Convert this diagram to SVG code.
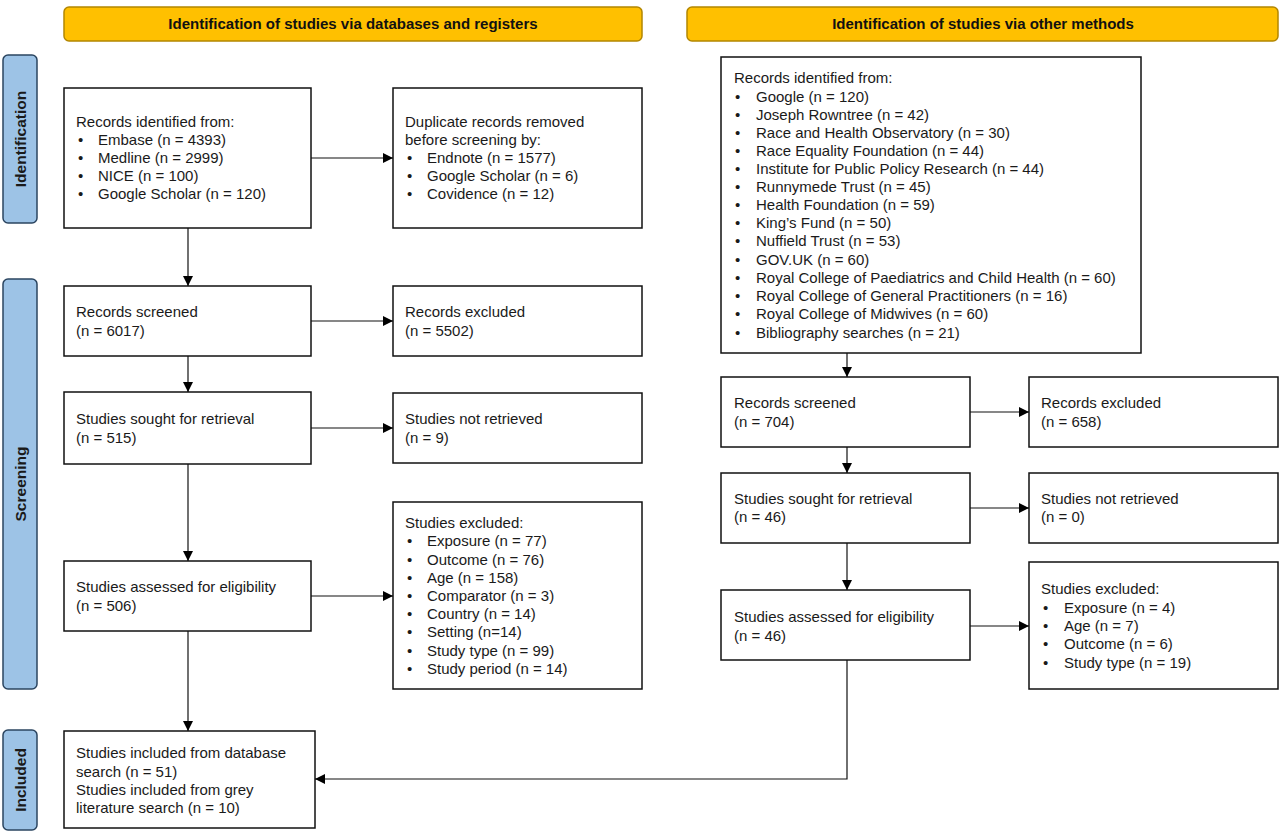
<svg xmlns="http://www.w3.org/2000/svg" width="1280" height="834" viewBox="0 0 1280 834">
<defs>
<marker id="ah" viewBox="0 0 10 10" refX="10" refY="5" markerWidth="10" markerHeight="10" markerUnits="userSpaceOnUse" orient="auto">
<path d="M0,0 L10,5 L0,10 z" fill="#000"/>
</marker>
<style>
.hdr{fill:#FFC000;stroke:#B38600;stroke-width:1.5}
.side{fill:#9DC3E6;stroke:#2B4560;stroke-width:1.5}
.box{fill:#fff;stroke:#111;stroke-width:1.5}
.ht{font-family:"Liberation Sans",Arial,sans-serif;font-weight:bold;font-size:15px;fill:#111;text-anchor:middle}
.st{font-family:"Liberation Sans",Arial,sans-serif;font-weight:bold;font-size:15.5px;fill:#1a1a1a;text-anchor:middle}
.t{font-family:"Liberation Sans",Arial,sans-serif;font-size:15px;fill:#1a1a1a}
.c{stroke:#111;stroke-width:1.2;fill:none}
.a{stroke:#111;stroke-width:1.2;fill:none;marker-end:url(#ah)}
</style>
</defs>
<rect width="1280" height="834" fill="#fff"/>

<g id="header-databases">
<rect class="hdr" x="64" y="7" width="578" height="34" rx="5"/>
<text class="ht" x="353" y="29">Identification of studies via databases and registers</text>
</g>
<g id="header-other">
<rect class="hdr" x="687" y="7" width="591" height="34" rx="5"/>
<text class="ht" x="983" y="29">Identification of studies via other methods</text>
</g>

<g id="side-identification">
<rect class="side" x="3" y="55" width="34" height="168" rx="5"/>
<text class="st" transform="translate(25.5,139) rotate(-90)">Identification</text>
</g>
<g id="side-screening">
<rect class="side" x="3" y="279" width="34" height="410" rx="5"/>
<text class="st" transform="translate(25.5,484) rotate(-90)">Screening</text>
</g>
<g id="side-included">
<rect class="side" x="3" y="730" width="34" height="100" rx="5"/>
<text class="st" transform="translate(25.5,780) rotate(-90)">Included</text>
</g>

<g id="db-identified">
<rect class="box" x="64" y="88" width="247" height="140"/>
<text class="t" x="76" y="127">Records identified from:</text>
<text class="t" x="78" y="145">•</text><text class="t" x="98" y="145">Embase (n = 4393)</text>
<text class="t" x="78" y="163">•</text><text class="t" x="98" y="163">Medline (n = 2999)</text>
<text class="t" x="78" y="181">•</text><text class="t" x="98" y="181">NICE (n = 100)</text>
<text class="t" x="78" y="199">•</text><text class="t" x="98" y="199">Google Scholar (n = 120)</text>
</g>
<g id="db-duplicates">
<rect class="box" x="393" y="88" width="249" height="140"/>
<text class="t" x="405" y="127">Duplicate records removed</text>
<text class="t" x="405" y="145">before screening by:</text>
<text class="t" x="407" y="163">•</text><text class="t" x="427" y="163">Endnote (n = 1577)</text>
<text class="t" x="407" y="181">•</text><text class="t" x="427" y="181">Google Scholar (n = 6)</text>
<text class="t" x="407" y="199">•</text><text class="t" x="427" y="199">Covidence (n = 12)</text>
</g>
<g id="db-screened">
<rect class="box" x="64" y="286" width="247" height="70"/>
<text class="t" x="76" y="317">Records screened</text>
<text class="t" x="76" y="336">(n = 6017)</text>
</g>
<g id="db-excluded">
<rect class="box" x="393" y="286" width="249" height="70"/>
<text class="t" x="405" y="317">Records excluded</text>
<text class="t" x="405" y="336">(n = 5502)</text>
</g>
<g id="db-sought">
<rect class="box" x="64" y="392" width="247" height="72"/>
<text class="t" x="76" y="424">Studies sought for retrieval</text>
<text class="t" x="76" y="443">(n = 515)</text>
</g>
<g id="db-not-retrieved">
<rect class="box" x="393" y="393" width="249" height="70"/>
<text class="t" x="405" y="424">Studies not retrieved</text>
<text class="t" x="405" y="443">(n = 9)</text>
</g>
<g id="db-assessed">
<rect class="box" x="64" y="561" width="247" height="70"/>
<text class="t" x="76" y="592">Studies assessed for eligibility</text>
<text class="t" x="76" y="611">(n = 506)</text>
</g>
<g id="db-studies-excluded">
<rect class="box" x="393" y="502" width="249" height="187"/>
<text class="t" x="405" y="528">Studies excluded:</text>
<text class="t" x="407" y="546">•</text><text class="t" x="427" y="546">Exposure (n = 77)</text>
<text class="t" x="407" y="565">•</text><text class="t" x="427" y="565">Outcome (n = 76)</text>
<text class="t" x="407" y="583">•</text><text class="t" x="427" y="583">Age (n = 158)</text>
<text class="t" x="407" y="601">•</text><text class="t" x="427" y="601">Comparator (n = 3)</text>
<text class="t" x="407" y="619">•</text><text class="t" x="427" y="619">Country (n = 14)</text>
<text class="t" x="407" y="637">•</text><text class="t" x="427" y="637">Setting (n=14)</text>
<text class="t" x="407" y="656">•</text><text class="t" x="427" y="656">Study type (n = 99)</text>
<text class="t" x="407" y="674">•</text><text class="t" x="427" y="674">Study period (n = 14)</text>
</g>
<g id="included">
<rect class="box" x="64" y="731" width="251" height="97"/>
<text class="t" x="76" y="758">Studies included from database</text>
<text class="t" x="76" y="777">search (n = 51)</text>
<text class="t" x="76" y="795">Studies included from grey</text>
<text class="t" x="76" y="813">literature search (n = 10)</text>
</g>

<g id="other-identified">
<rect class="box" x="721" y="57" width="420" height="296"/>
<text class="t" x="734" y="83">Records identified from:</text>
<text class="t" x="735" y="102">•</text><text class="t" x="756" y="102">Google (n = 120)</text>
<text class="t" x="735" y="120">•</text><text class="t" x="756" y="120">Joseph Rowntree (n = 42)</text>
<text class="t" x="735" y="138">•</text><text class="t" x="756" y="138">Race and Health Observatory (n = 30)</text>
<text class="t" x="735" y="156">•</text><text class="t" x="756" y="156">Race Equality Foundation (n = 44)</text>
<text class="t" x="735" y="174">•</text><text class="t" x="756" y="174">Institute for Public Policy Research (n = 44)</text>
<text class="t" x="735" y="192">•</text><text class="t" x="756" y="192">Runnymede Trust (n = 45)</text>
<text class="t" x="735" y="210">•</text><text class="t" x="756" y="210">Health Foundation (n = 59)</text>
<text class="t" x="735" y="228">•</text><text class="t" x="756" y="228">King’s Fund (n = 50)</text>
<text class="t" x="735" y="246">•</text><text class="t" x="756" y="246">Nuffield Trust (n = 53)</text>
<text class="t" x="735" y="265">•</text><text class="t" x="756" y="265">GOV.UK (n = 60)</text>
<text class="t" x="735" y="283">•</text><text class="t" x="756" y="283">Royal College of Paediatrics and Child Health (n = 60)</text>
<text class="t" x="735" y="301">•</text><text class="t" x="756" y="301">Royal College of General Practitioners (n = 16)</text>
<text class="t" x="735" y="319">•</text><text class="t" x="756" y="319">Royal College of Midwives (n = 60)</text>
<text class="t" x="735" y="338">•</text><text class="t" x="756" y="338">Bibliography searches (n = 21)</text>
</g>
<g id="other-screened">
<rect class="box" x="721" y="377" width="249" height="70"/>
<text class="t" x="734" y="408">Records screened</text>
<text class="t" x="734" y="427">(n = 704)</text>
</g>
<g id="other-excluded">
<rect class="box" x="1029" y="377" width="249" height="70"/>
<text class="t" x="1041" y="408">Records excluded</text>
<text class="t" x="1041" y="427">(n = 658)</text>
</g>
<g id="other-sought">
<rect class="box" x="721" y="473" width="249" height="70"/>
<text class="t" x="734" y="504">Studies sought for retrieval</text>
<text class="t" x="734" y="522">(n = 46)</text>
</g>
<g id="other-not-retrieved">
<rect class="box" x="1029" y="473" width="249" height="70"/>
<text class="t" x="1041" y="504">Studies not retrieved</text>
<text class="t" x="1041" y="522">(n = 0)</text>
</g>
<g id="other-assessed">
<rect class="box" x="721" y="590" width="249" height="70"/>
<text class="t" x="734" y="622">Studies assessed for eligibility</text>
<text class="t" x="734" y="641">(n = 46)</text>
</g>
<g id="other-studies-excluded">
<rect class="box" x="1029" y="562" width="249" height="127"/>
<text class="t" x="1041" y="594">Studies excluded:</text>
<text class="t" x="1043" y="613">•</text><text class="t" x="1064" y="613">Exposure (n = 4)</text>
<text class="t" x="1043" y="631">•</text><text class="t" x="1064" y="631">Age (n = 7)</text>
<text class="t" x="1043" y="649">•</text><text class="t" x="1064" y="649">Outcome (n = 6)</text>
<text class="t" x="1043" y="668">•</text><text class="t" x="1064" y="668">Study type (n = 19)</text>
</g>

<g id="connectors">
<line class="a" x1="311" y1="158" x2="393" y2="158"/>
<line class="a" x1="188" y1="228" x2="188" y2="286"/>
<line class="a" x1="311" y1="321" x2="393" y2="321"/>
<line class="a" x1="188" y1="356" x2="188" y2="392"/>
<line class="a" x1="311" y1="428" x2="393" y2="428"/>
<line class="a" x1="188" y1="464" x2="188" y2="561"/>
<line class="a" x1="311" y1="596" x2="393" y2="596"/>
<line class="a" x1="188" y1="631" x2="188" y2="731"/>
<line class="a" x1="847" y1="353" x2="847" y2="377"/>
<line class="a" x1="970" y1="412" x2="1029" y2="412"/>
<line class="a" x1="847" y1="447" x2="847" y2="473"/>
<line class="a" x1="970" y1="508" x2="1029" y2="508"/>
<line class="a" x1="847" y1="543" x2="847" y2="590"/>
<line class="a" x1="970" y1="626" x2="1029" y2="626"/>
<polyline class="a" points="847,660 847,779 315,779"/>
</g>
</svg>
